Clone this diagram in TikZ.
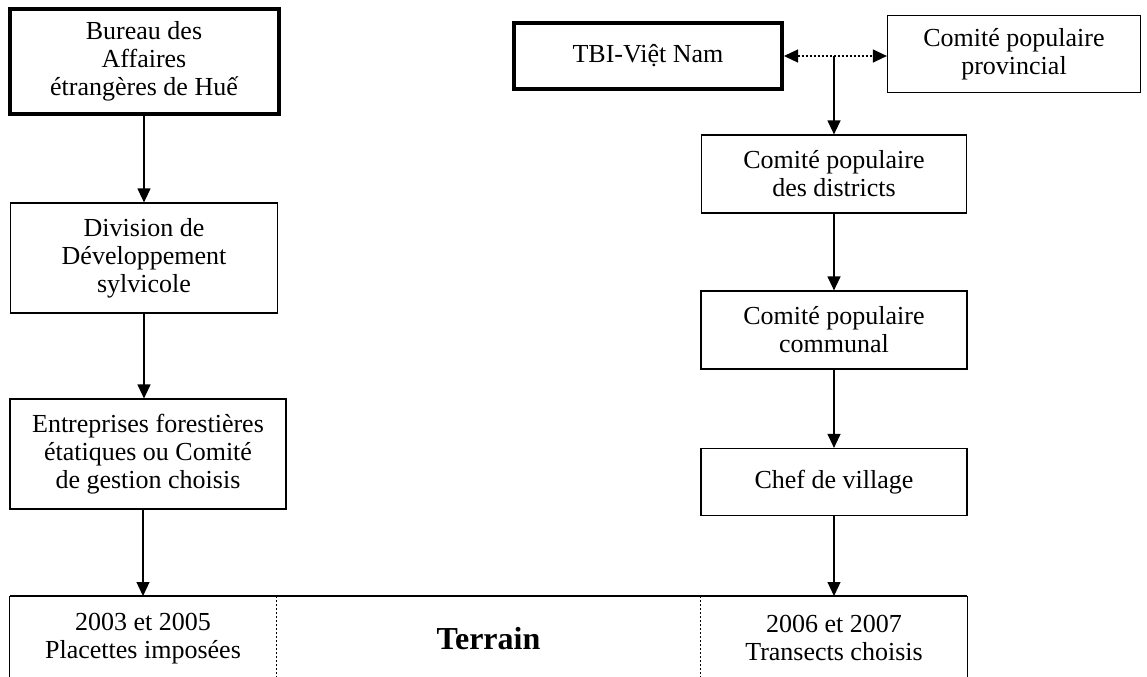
\documentclass[tikz,border=0pt]{standalone}
\usepackage{fontspec}
\setmainfont{Liberation Serif}
\usetikzlibrary{arrows.meta}

\tikzset{
  box/.style={draw,line width=0.6pt,align=center,inner sep=2pt,font=\fontsize{13}{14}\selectfont},
  thickbox/.style={box,line width=2pt},
  cell/.style={anchor=north,minimum height=42pt,align=center,inner sep=0pt,font=\fontsize{13}{14}\selectfont},
  link/.style={->,line width=0.6pt},
}

\begin{document}
\begin{tikzpicture}[x=0.5pt,y=-0.5pt,>={Triangle[length=7pt,width=6.5pt]}]
  \useasboundingbox (0,0) rectangle (1147,676);
  % left column
  \node[thickbox,minimum width=134.5pt,minimum height=52.5pt] (bureau) at (144,61) {Bureau des\\Affaires\\étrangères de Huế};
  \node[box,minimum width=133.5pt,minimum height=55pt] (division) at (144,258) {Division de\\Développement\\sylvicole};
  \node[box,minimum width=138pt,minimum height=55pt] (entreprises) at (148,454) {Entreprises forestières\\étatiques ou Comité\\de gestion choisis};
  % right column
  \node[thickbox,minimum width=134pt,minimum height=33pt] (tbi) at (648,56) {TBI-Việt Nam};
  \node[box,minimum width=126.5pt,minimum height=38.5pt] (provincial) at (1014,54) {Comité populaire\\provincial};
  \node[box,minimum width=132.5pt,minimum height=39pt] (districts) at (834,174) {Comité populaire\\des districts};
  \node[box,minimum width=133pt,minimum height=39pt] (communal) at (834,330) {Comité populaire\\communal};
  \node[box,minimum width=133pt,minimum height=33.5pt] (chef) at (834,482) {Chef de village};
  % terrain
  \node[cell,minimum width=133pt] (cellA) at (143,596) {2003 et 2005\\Placettes imposées};
  \node[cell,minimum width=212.5pt,font=\fontsize{16}{18}\selectfont\bfseries] (cellB) at (488.5,596) {Terrain};
  \node[cell,minimum width=133pt] (cellC) at (834,596) {2006 et 2007\\Transects choisis};
  \draw[line width=1pt] (cellA.north west) -- (cellC.north east);
  \draw[line width=0.5pt] (cellA.north west) -- (cellA.south west);
  \draw[line width=0.5pt] (cellC.north east) -- (cellC.south east);
  \draw[line width=0.5pt,dash pattern=on 1pt off 1pt] (cellA.north east) -- (cellA.south east);
  \draw[line width=0.5pt,dash pattern=on 1pt off 1pt] (cellC.north west) -- (cellC.south west);

  \draw[link] (bureau.south) -- (division.north);
  \draw[link] (division.south) -- (division.south |- entreprises.north);
  \draw[link] (entreprises.south -| cellA.north) -- (cellA.north);
  \draw[<->,line width=0.6pt,dash pattern=on 1pt off 1pt] (tbi.east) -- (tbi.east -| provincial.west);
  \coordinate (split) at (districts.north |- tbi.east);
  \draw[link] (split) -- (districts.north);
  \draw[link] (districts.south) -- (communal.north);
  \draw[link] (communal.south) -- (chef.north);
  \draw[link] (chef.south) -- (cellC.north);
\end{tikzpicture}
\end{document}
